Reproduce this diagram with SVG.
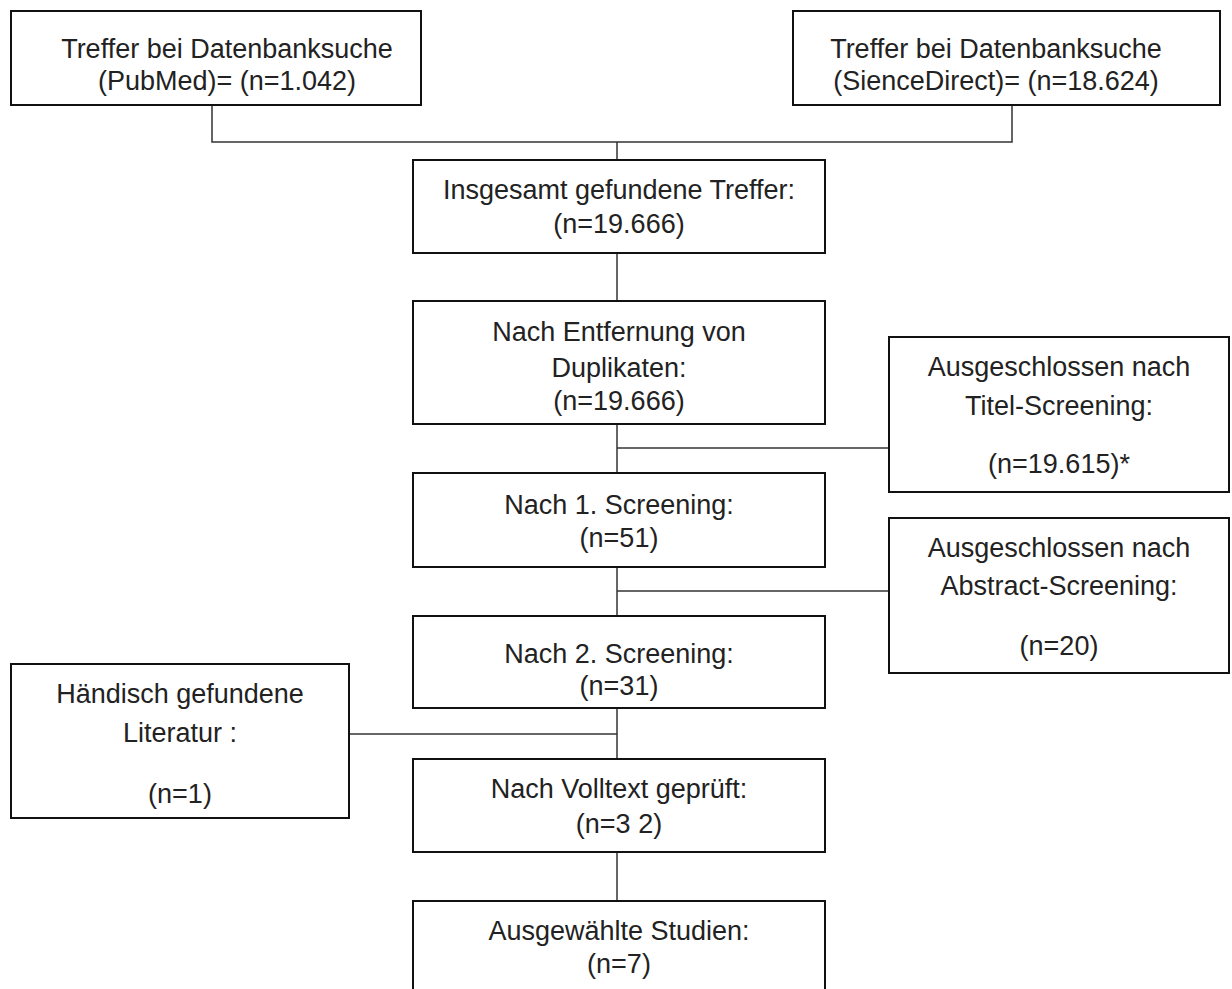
<svg xmlns="http://www.w3.org/2000/svg" width="1232" height="989" viewBox="0 0 1232 989">
<style>
.box{fill:#fff;stroke:#111;stroke-width:2}
.t{font-family:"Liberation Sans",Arial,sans-serif;font-size:27px;fill:#222;text-anchor:middle}
.c{fill:none;stroke:#333;stroke-width:1.5}
</style>
<rect width="1232" height="989" fill="#fff"/>
<g id="connectors">
<polyline class="c" points="212,105 212,142 1012,142 1012,105"/>
<line class="c" x1="617" y1="142" x2="617" y2="160"/>
<line class="c" x1="617" y1="253" x2="617" y2="301"/>
<line class="c" x1="617" y1="424" x2="617" y2="473"/>
<line class="c" x1="617" y1="448" x2="889" y2="448"/>
<line class="c" x1="617" y1="567" x2="617" y2="616"/>
<line class="c" x1="617" y1="591" x2="889" y2="591"/>
<line class="c" x1="617" y1="708" x2="617" y2="759"/>
<line class="c" x1="349" y1="734" x2="617" y2="734"/>
<line class="c" x1="617" y1="852" x2="617" y2="901"/>
</g>
<g id="pubmed">
<rect class="box" x="11" y="11" width="410" height="94"/>
<text class="t" x="227" y="58">Treffer bei Datenbanksuche</text>
<text class="t" x="227" y="90">(PubMed)= (n=1.042)</text>
</g>
<g id="sciencedirect">
<rect class="box" x="793" y="11" width="427" height="94"/>
<text class="t" x="996" y="58">Treffer bei Datenbanksuche</text>
<text class="t" x="996" y="90">(SienceDirect)= (n=18.624)</text>
</g>
<g id="insgesamt">
<rect class="box" x="413" y="160" width="412" height="93"/>
<text class="t" x="619" y="199">Insgesamt gefundene Treffer:</text>
<text class="t" x="619" y="233">(n=19.666)</text>
</g>
<g id="duplikate">
<rect class="box" x="413" y="301" width="412" height="123"/>
<text class="t" x="619" y="341">Nach Entfernung von</text>
<text class="t" x="619" y="377">Duplikaten:</text>
<text class="t" x="619" y="410">(n=19.666)</text>
</g>
<g id="titel">
<rect class="box" x="889" y="337" width="340" height="155"/>
<text class="t" x="1059" y="376">Ausgeschlossen nach</text>
<text class="t" x="1059" y="415">Titel-Screening:</text>
<text class="t" x="1059" y="473">(n=19.615)*</text>
</g>
<g id="screening1">
<rect class="box" x="413" y="473" width="412" height="94"/>
<text class="t" x="619" y="514">Nach 1. Screening:</text>
<text class="t" x="619" y="547">(n=51)</text>
</g>
<g id="abstract">
<rect class="box" x="889" y="518" width="340" height="155"/>
<text class="t" x="1059" y="557">Ausgeschlossen nach</text>
<text class="t" x="1059" y="595">Abstract-Screening:</text>
<text class="t" x="1059" y="655">(n=20)</text>
</g>
<g id="screening2">
<rect class="box" x="413" y="616" width="412" height="92"/>
<text class="t" x="619" y="663">Nach 2. Screening:</text>
<text class="t" x="619" y="695">(n=31)</text>
</g>
<g id="haendisch">
<rect class="box" x="11" y="664" width="338" height="154"/>
<text class="t" x="180" y="703">Händisch gefundene</text>
<text class="t" x="180" y="742">Literatur :</text>
<text class="t" x="180" y="803">(n=1)</text>
</g>
<g id="volltext">
<rect class="box" x="413" y="759" width="412" height="93"/>
<text class="t" x="619" y="798">Nach Volltext geprüft:</text>
<text class="t" x="619" y="833">(n=3 2)</text>
</g>
<g id="ausgewaehlt">
<rect class="box" x="413" y="901" width="412" height="100"/>
<text class="t" x="619" y="940">Ausgewählte Studien:</text>
<text class="t" x="619" y="973">(n=7)</text>
</g>
</svg>
